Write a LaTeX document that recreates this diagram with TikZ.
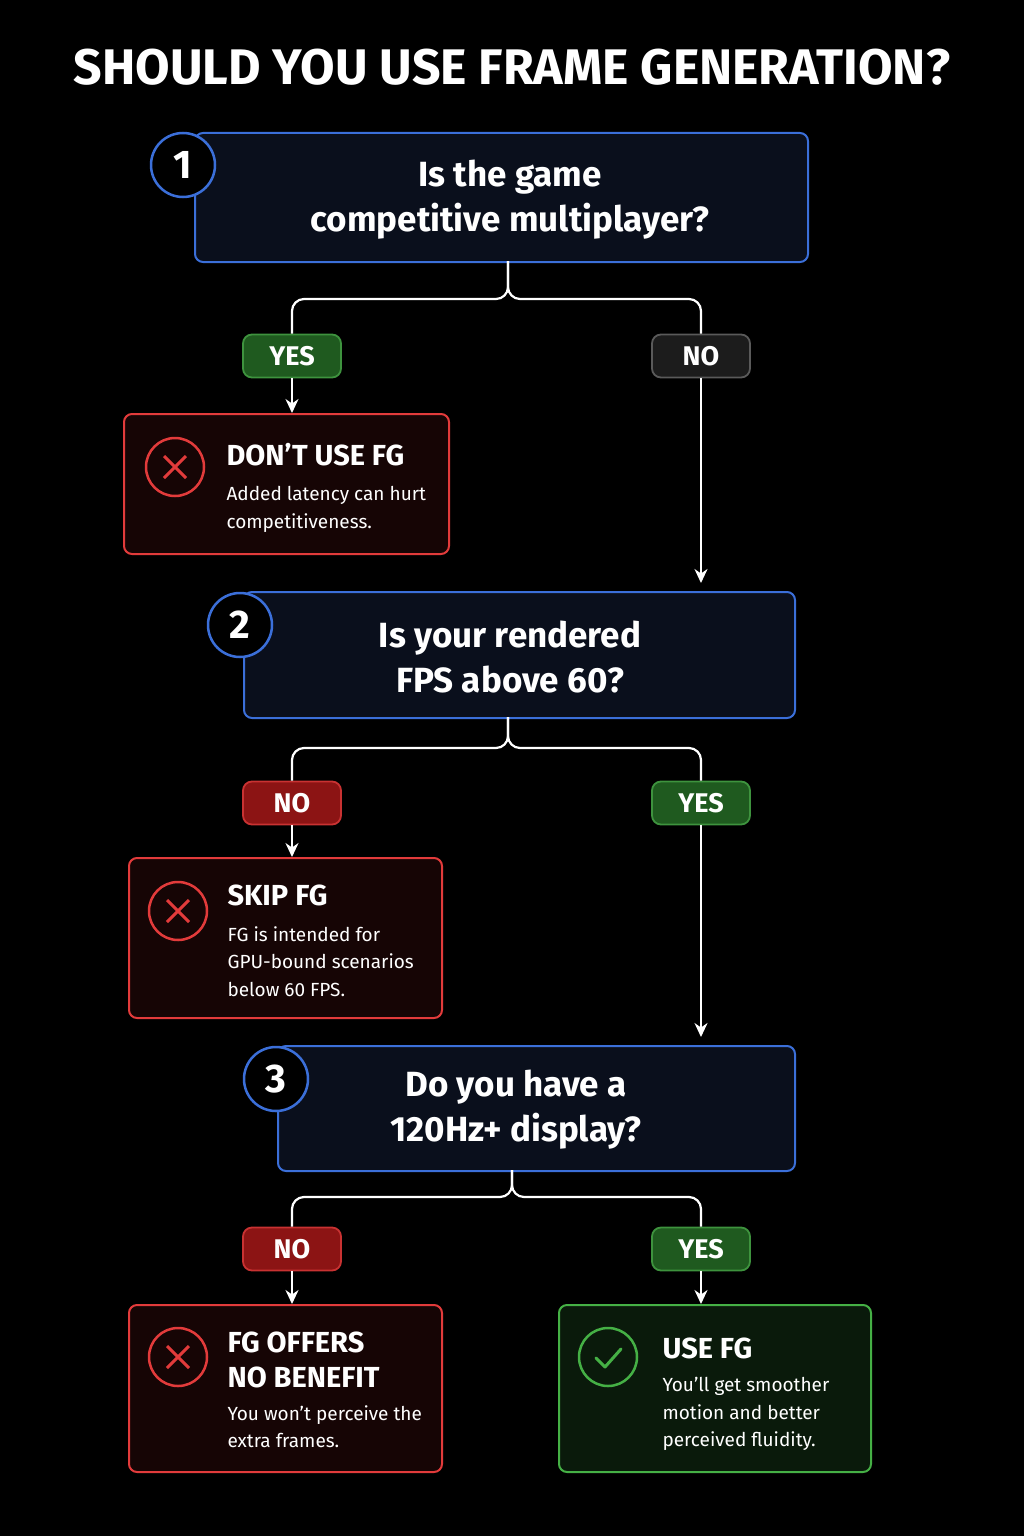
\documentclass[tikz,border=0pt]{standalone}
\usepackage{fontspec}
\setmainfont{Fira Sans}
\usetikzlibrary{arrows.meta,calc}
\definecolor{qfill}{HTML}{0A0F1C}
\definecolor{qline}{HTML}{3B6FD9}
\definecolor{rfill}{HTML}{160505}
\definecolor{rline}{HTML}{E23B3B}
\definecolor{gfill}{HTML}{0A1A0B}
\definecolor{gline}{HTML}{45B045}
\definecolor{ypill}{HTML}{1F5A1F}
\definecolor{ypline}{HTML}{3E933E}
\definecolor{npill}{HTML}{1C1C1C}
\definecolor{npline}{HTML}{5A5A5A}
\definecolor{rpill}{HTML}{8C1414}
\definecolor{rpline}{HTML}{C93232}
\begin{document}
\begin{tikzpicture}[x=1pt,y=-1pt,
  box/.style={draw,line width=2pt,rounded corners=8pt,inner sep=0,anchor=north west},
  qbox/.style={box,draw=qline,fill=qfill},
  rbox/.style={box,draw=rline,fill=rfill},
  gbox/.style={box,draw=gline,fill=gfill},
  num/.style={circle,draw=qline,line width=2.5pt,fill=black,minimum size=64pt,inner sep=0,text=white,font=\bfseries\fontsize{40}{40}\selectfont},
  pill/.style={rounded corners=9pt,line width=1.8pt,minimum width=98pt,minimum height=43pt,inner sep=0,text=white,font=\bfseries\fontsize{27}{27}\selectfont},
  yes/.style={pill,fill=ypill,draw=ypline},
  no/.style={pill,fill=npill,draw=npline},
  rno/.style={pill,fill=rpill,draw=rpline},
  qtext/.style={text=white,align=center,font=\bfseries\fontsize{35}{45}\selectfont},
  ttl/.style={text=white,anchor=west,font=\bfseries\fontsize{29}{35}\selectfont,align=left},
  body/.style={text=white,anchor=north west,font=\fontsize{19}{27.5}\selectfont,align=left},
  icon/.style={circle,line width=2.5pt,minimum size=58pt,inner sep=0},
  conn/.style={draw=white,line width=2.2pt,rounded corners=12pt},
  arr/.style={draw=white,line width=2.2pt,-{Stealth[length=14pt,width=13pt]}}
]
\useasboundingbox[fill=black] (0,0) rectangle (1024,1536);
\node[text=white,font=\bfseries\fontsize{50}{50}\selectfont] (title) at (512,67) {SHOULD YOU USE FRAME GENERATION?};

% Q1
\node[qbox,minimum width=613pt,minimum height=129pt] (q1) at (194,132) {};
\node[qtext] (q1t) at (510,200) {Is the game\\competitive multiplayer?};
\node[num] (n1) at (183,165) {1};
\node[yes] (yes1) at (292,356) {YES};
\node[no] (no1) at (701,356) {NO};
\node[rbox,minimum width=325pt,minimum height=140pt] (r1) at (123,413) {};
\node[icon,draw=rline] (i1) at (175,467) {};
\draw[rline,line width=3pt] ($(i1)+(-11,-11)$) -- ($(i1)+(11,11)$) ($(i1)+(-11,11)$) -- ($(i1)+(11,-11)$);
\node[ttl] (r1t) at (223,455) {DON’T USE FG};
\node[body] (r1b) at (223,483) {Added latency can hurt\\competitiveness.};

% Q2
\node[qbox,minimum width=551pt,minimum height=126pt] (q2) at (243,591) {};
\node[qtext] (q2t) at (510,657) {Is your rendered\\FPS above 60?};
\node[num] (n2) at (240,625) {2};
\node[rno] (no2) at (292,803) {NO};
\node[yes] (yes2) at (701,803) {YES};
\node[rbox,minimum width=313pt,minimum height=160pt] (r2) at (128,857) {};
\node[icon,draw=rline] (i2) at (178,911) {};
\draw[rline,line width=3pt] ($(i2)+(-11,-11)$) -- ($(i2)+(11,11)$) ($(i2)+(-11,11)$) -- ($(i2)+(11,-11)$);
\node[ttl] (r2t) at (224,895) {SKIP FG};
\node[body] (r2b) at (224,923) {FG is intended for\\GPU-bound scenarios\\below 60 FPS.};

% Q3
\node[qbox,minimum width=517pt,minimum height=125pt] (q3) at (277,1045) {};
\node[qtext] (q3t) at (516,1110) {Do you have a\\120Hz+ display?};
\node[num] (n3) at (276,1079) {3};
\node[rno] (no3) at (292,1249) {NO};
\node[yes] (yes3) at (701,1249) {YES};
\node[rbox,minimum width=313pt,minimum height=167pt] (r3) at (128,1304) {};
\node[icon,draw=rline] (i3) at (178,1357) {};
\draw[rline,line width=3pt] ($(i3)+(-11,-11)$) -- ($(i3)+(11,11)$) ($(i3)+(-11,11)$) -- ($(i3)+(11,-11)$);
\node[ttl] (r3t) at (224,1360) {FG OFFERS\\NO BENEFIT};
\node[body] (r3b) at (224,1402) {You won’t perceive the\\extra frames.};
\node[gbox,minimum width=312pt,minimum height=167pt] (g3) at (558,1304) {};
\node[icon,draw=gline] (i4) at (608,1357) {};
\draw[gline,line width=3pt,line cap=round,line join=round] ($(i4)+(-12,1)$) -- ($(i4)+(-3,10)$) -- ($(i4)+(13,-8)$);
\node[ttl] (g3t) at (659,1348) {USE FG};
\node[body] (g3b) at (659,1374) {You’ll get smoother\\motion and better\\perceived fluidity.};

% connectors
\coordinate (t1) at (508,261);
\coordinate (t2) at (508,717);
\coordinate (t3) at (512,1170);
\coordinate (s1) at (508,299);
\coordinate (s2) at (508,748);
\coordinate (s3) at (512,1197);
\draw[conn] (t1) -- (s1) -| (yes1.north);
\draw[conn] (t1) -- (s1) -| (no1.north);
\draw[arr] (yes1.south) -- (r1.north -| yes1);
\draw[arr,shorten >=8pt] (no1.south) -- (q2.north -| no1);
\draw[conn] (t2) -- (s2) -| (no2.north);
\draw[conn] (t2) -- (s2) -| (yes2.north);
\draw[arr] (no2.south) -- (r2.north -| no2);
\draw[arr,shorten >=8pt] (yes2.south) -- (q3.north -| yes2);
\draw[conn] (t3) -- (s3) -| (no3.north);
\draw[conn] (t3) -- (s3) -| (yes3.north);
\draw[arr] (no3.south) -- (r3.north -| no3);
\draw[arr] (yes3.south) -- (g3.north -| yes3);
\end{tikzpicture}
\end{document}
